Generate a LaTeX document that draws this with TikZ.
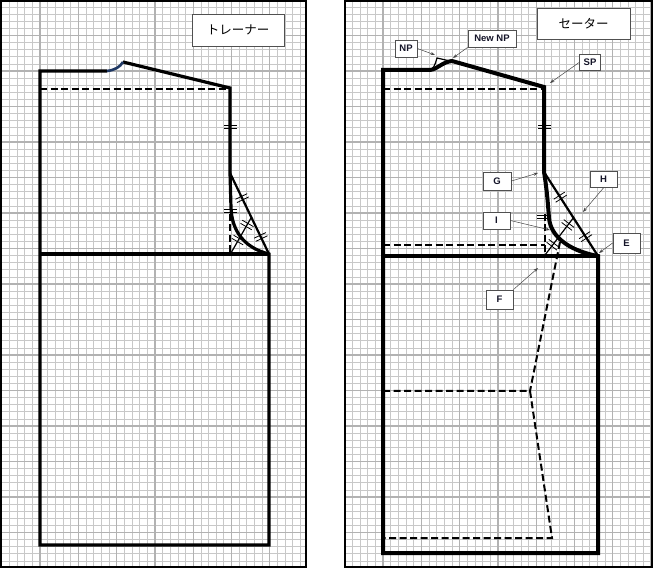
\documentclass[tikz,border=0pt]{standalone}
\usepackage{fontspec}
\setsansfont{Liberation Sans}
\newfontfamily\jpfont{Noto Sans CJK JP}
\usetikzlibrary{arrows.meta,decorations.markings}
\definecolor{gridminor}{RGB}{200,200,200}
\definecolor{gridmajor}{RGB}{178,178,178}
\definecolor{necknavy}{RGB}{31,56,100}
\definecolor{lbltext}{RGB}{20,20,40}
\def\tkpair{\draw[line width=0.8pt,solid,black] (-1.8,-6.5) -- (-1.8,6.5) (1.8,-6.5) -- (1.8,6.5);}
\tikzset{
  minorgrid/.style={draw=gridminor, line width=0.7pt},
  majorgrid/.style={draw=gridmajor, line width=1.3pt},
  frame/.style={draw=black, line width=1.6pt},
  bodyL/.style={draw=black, line width=3.2pt, line join=miter},
  bodyR/.style={draw=black, line width=4pt, line join=miter},
  diag/.style={draw=black, line width=2.2pt},
  thinl/.style={draw=black, line width=1.2pt},
  dashL/.style={draw=black, line width=2pt, dash pattern=on 7pt off 3.5pt},
  tk/.style={postaction={decorate,decoration={markings,mark=at position #1 with {\tkpair}}}},
  tktwo/.style 2 args={postaction={decorate,decoration={markings,mark=at position #1 with {\tkpair},mark=at position #2 with {\tkpair}}}},
  title/.style={draw={rgb,255:red,80;green,80;blue,80}, line width=0.9pt, fill=white, font=\jpfont\fontsize{12.5}{14}\selectfont, inner sep=0pt},
  lbl/.style={draw={rgb,255:red,80;green,80;blue,80}, line width=0.8pt, fill=white, text=lbltext, font=\sffamily\bfseries\fontsize{9.5}{11}\selectfont, inner sep=0pt, minimum height=17pt},
  callout/.style={draw={rgb,255:red,70;green,70;blue,70}, line width=0.5pt, -{Stealth[length=4.5pt,width=3.2pt]}},
}
\begin{document}
\begin{tikzpicture}[x=1pt,y=-1pt]
\useasboundingbox (0,0) rectangle (654,569);
\fill[white] (0,0) rectangle (654,569);
% ---------- grids ----------
\begin{scope}
\clip (0.75,0.75) rectangle (306,567);
\foreach \k in {0,...,40} {\pgfmathsetmacro\xx{1.7+7.66*\k} \draw[minorgrid] (\xx,0) -- (\xx,569);}
\foreach \k in {0,...,80} {\pgfmathsetmacro\yy{7.1*\k} \draw[minorgrid] (0,\yy) -- (310,\yy);}
\foreach \k in {0,5,...,40} {\pgfmathsetmacro\xx{1.7+7.66*\k} \draw[majorgrid] (\xx,0) -- (\xx,569);}
\foreach \k in {0,5,...,80} {\pgfmathsetmacro\yy{7.1*\k} \draw[majorgrid] (0,\yy) -- (310,\yy);}
\end{scope}
\begin{scope}
\clip (345,0.75) rectangle (652,567);
\foreach \k in {0,...,40} {\pgfmathsetmacro\xx{344.7+7.66*\k} \draw[minorgrid] (\xx,0) -- (\xx,569);}
\foreach \k in {0,...,80} {\pgfmathsetmacro\yy{7.1*\k} \draw[minorgrid] (340,\yy) -- (654,\yy);}
\foreach \k in {0,5,...,40} {\pgfmathsetmacro\xx{344.7+7.66*\k} \draw[majorgrid] (\xx,0) -- (\xx,569);}
\foreach \k in {0,5,...,80} {\pgfmathsetmacro\yy{7.1*\k} \draw[majorgrid] (340,\yy) -- (654,\yy);}
\end{scope}
\draw[frame] (0.8,0.8) rectangle (306,567);
\draw[frame] (345,0.8) rectangle (652,567);

% ---------- left panel ----------
\draw[dashL] (40,89) -- (230,89);
\draw[dashL] (230,214) -- (230,254);
\path[tk=0.5] (230,205) -- (230,217);
\draw[bodyL] (123,62) -- (230,88) -- (230,173) -- (231,208)
  .. controls (232,232) and (245,248) .. (269,254) -- (269,545) -- (40,545) -- (40,71) -- (107,71);
\draw[necknavy, line width=2.6pt] (107,71) .. controls (115,70) and (120,67) .. (123,62);
\draw[bodyL] (40,254) -- (269,254);
\path[tk=0.46] (230,88) -- (230,173);
\draw[diag, tktwo={0.31}{0.79}] (230,173) -- (269,254);
\draw[thinl, tktwo={0.37}{0.8}] (231,253) -- (251,218);
\node[title, minimum width=92pt, minimum height=32pt] (ttrainer) at (238,30) {トレーナー};

% ---------- right panel ----------
\draw[dashL] (383,89) -- (544,89);
\draw[dashL] (383,245) -- (545,245);
\draw[dashL] (545,214) -- (545,256);
\path[tk=0.5] (543,211) -- (543,223);
\draw[dashL] (560,242) -- (530,391);
\draw[dashL] (383,391) -- (530,391) -- (552,538) -- (383,538);
\draw[thinl] (432,69) .. controls (435,66) and (436,61) .. (437,58) -- (452,61.5);
\draw[bodyR] (383,553) -- (383,70) -- (430,70) .. controls (438,69) and (442,62) .. (452,61)
  -- (544,87) -- (544,172) .. controls (547,190) and (548,205) .. (549,218)
  .. controls (551,240) and (575,252) .. (598,256) -- (598,553) -- cycle;
\draw[bodyR] (383,256) -- (598,256);
\path[tk=0.47] (544,87) -- (544,172);
\draw[diag, tktwo={0.3}{0.77}] (544,172) -- (598,256);
\draw[thinl, tktwo={0.27}{0.79}] (545,255) -- (574,217);
\node[title, minimum width=93pt, minimum height=31pt] (tsweater) at (583.5,23.5) {セーター};

% labels
\node[lbl, minimum width=22pt] (np) at (406,48.5) {NP};
\node[lbl, minimum width=48pt] (newnp) at (492,38.5) {New NP};
\node[lbl, minimum width=21pt, minimum height=16pt] (sp) at (590,62.5) {SP};
\node[lbl, minimum width=28pt, minimum height=18pt] (g) at (497,181) {G};
\node[lbl, minimum width=27pt, minimum height=16pt] (h) at (603.5,179.5) {H};
\node[lbl, minimum width=27pt] (i) at (496.5,220.5) {I};
\node[lbl, minimum width=27pt, minimum height=20pt] (e) at (626.5,243) {E};
\node[lbl, minimum width=27pt, minimum height=19pt] (f) at (499.5,299.5) {F};
\coordinate (npT) at (435,55);
\coordinate (newnpT) at (453,58);
\coordinate (spT) at (550,83);
\coordinate (gT) at (538,173);
\coordinate (hT) at (583,212);
\coordinate (iT) at (550,230);
\coordinate (eT) at (599,253);
\coordinate (fT) at (538,268);
\draw[callout] (np.east) -- (npT);
\draw[callout] (newnp.south west) -- (newnpT);
\draw[callout] (sp.west) -- (spT);
\draw[callout] (g.east) -- (gT);
\draw[callout] (h.south) -- (hT);
\draw[callout] (i.east) -- (iT);
\draw[callout] (e.west) -- (eT);
\draw[callout] (f.north east) -- (fT);
\end{tikzpicture}
\end{document}
